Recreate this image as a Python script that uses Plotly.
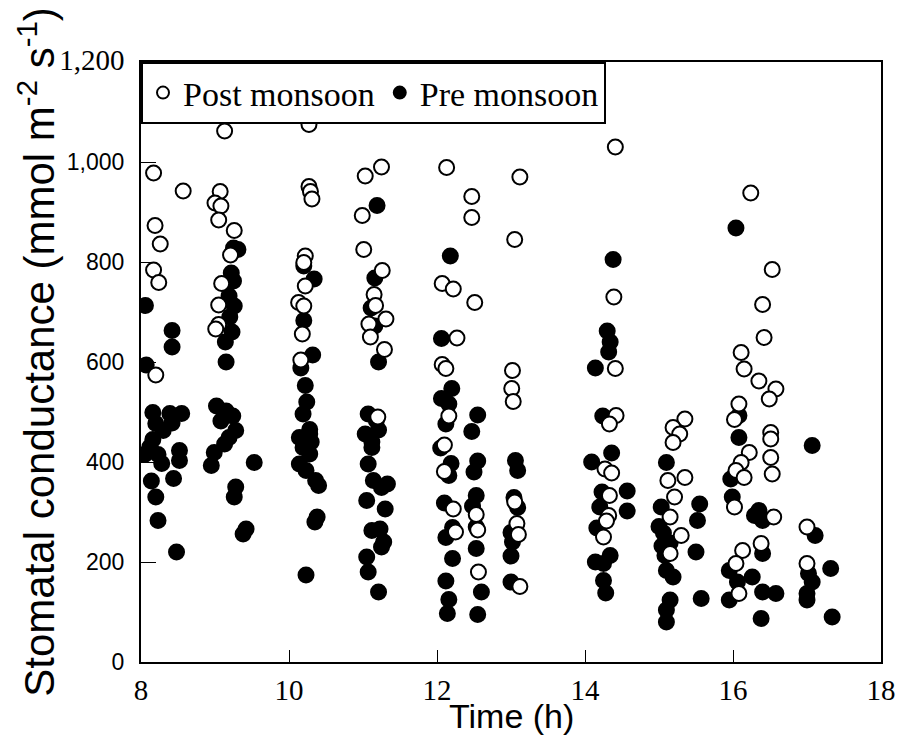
import plotly.graph_objects as go

# Post monsoon (open circles): time (h), stomatal conductance
post_t = [8.17, 8.57, 8.19, 8.26, 8.17, 8.24, 8.20,
          9.13, 9.07, 9.00, 9.08, 9.05, 9.26, 9.21, 9.09, 9.05, 9.05, 9.01,
          10.27, 10.27, 10.29, 10.31, 10.22, 10.20, 10.22, 10.13, 10.20, 10.18, 10.16,
          11.03, 11.25, 10.99, 11.01, 11.26, 11.15, 11.17, 11.31, 11.08, 11.10, 11.29, 11.20,
          12.13, 12.07, 12.22, 12.27, 12.07, 12.12, 12.16, 12.10, 12.10, 12.22, 12.25,
          12.47, 12.47, 12.51, 12.53, 12.55, 12.56,
          13.12, 13.05, 13.02, 13.01, 13.03, 13.05, 13.08, 13.10, 13.12,
          14.41, 14.39, 14.41, 14.42, 14.33, 14.27, 14.36, 14.33, 14.32, 14.29, 14.25,
          15.35, 15.19, 15.28, 15.19, 15.12, 15.35, 15.21, 15.15, 15.30, 15.15,
          16.24, 16.53, 16.40, 16.42, 16.11, 16.15, 16.35, 16.58, 16.49, 16.08, 16.02,
          16.22, 16.11, 16.04, 16.15, 16.51, 16.51, 16.51, 16.53, 16.02, 16.55, 16.38,
          16.13, 16.04, 16.08,
          17.00, 17.00]
post_v = [978, 942, 873, 836, 784, 759, 574,
          1062, 941, 918, 912, 884, 863, 814, 757, 714, 675, 666,
          1075, 951, 941, 926, 812, 799, 752, 719, 712, 656, 604,
          972, 990, 893, 825, 783, 735, 713, 686, 676, 650, 625, 490,
          989, 757, 746, 648, 595, 587, 492, 434, 381, 306, 260,
          931, 889, 719, 295, 264, 180,
          970, 845, 583, 547, 521, 320, 277, 255, 151,
          1030, 730, 587, 493, 476, 386, 378, 333, 293, 282, 250,
          486, 469, 456, 439, 363, 369, 330, 290, 253, 217,
          938, 785, 715, 649, 619, 586, 562, 546, 526, 516, 485,
          419, 399, 383, 369, 459, 446, 409, 376, 310, 290, 237,
          223, 197, 137,
          270, 197]

# Pre monsoon (filled circles)
pre_t = [8.06, 8.42, 8.42, 8.07,
         8.16, 8.39, 8.55, 8.20, 8.42, 8.30, 8.16, 8.12, 8.05, 8.23, 8.52, 8.28, 8.52,
         8.44, 8.14, 8.20, 8.23, 8.48,
         9.25, 9.31, 9.22, 9.25, 9.19, 9.26, 9.20, 9.23, 9.14, 9.15,
         9.02, 9.15, 9.24, 9.08, 9.28, 9.19, 9.13, 8.99, 8.95, 9.53, 9.28, 9.26, 9.42, 9.38,
         10.20, 10.34, 10.20, 10.32, 10.16, 10.22,
         10.24, 10.19, 10.14, 10.28, 10.28, 10.30, 10.19, 10.28, 10.14, 10.23, 10.36, 10.40,
         10.38, 10.35, 10.23,
         11.19, 11.16, 11.11, 11.16, 11.21,
         11.07, 11.18, 11.21, 11.03, 11.12, 11.12, 11.07, 11.14, 11.33, 11.25, 11.05, 11.30,
         11.12, 11.23, 11.28, 11.25, 11.05, 11.07, 11.21,
         12.18, 12.06, 12.20, 12.06, 12.16, 12.12, 12.05, 12.19, 12.16, 12.10, 12.21, 12.12,
         12.21, 12.12, 12.16, 12.14,
         12.55, 12.47, 12.55, 12.50, 12.53, 12.48, 12.53, 12.53, 12.60, 12.55,
         13.06, 13.09, 13.04, 13.09, 13.00, 13.02, 13.00, 13.00,
         14.38, 14.30, 14.34, 14.32, 14.14, 14.24, 14.36, 14.09, 14.57, 14.23, 14.57, 14.20,
         14.16, 14.34, 14.14, 14.25, 14.25, 14.28,
         15.10, 15.55, 15.52, 15.03, 15.00, 15.06, 15.15, 15.04, 15.08, 15.50, 15.10, 15.19,
         15.15, 15.10, 15.10, 15.57,
         16.04, 16.08, 16.08, 15.97, 15.99, 16.35, 16.29, 16.40, 16.40, 15.95, 16.06, 15.95,
         16.26, 16.40, 16.58, 16.38,
         17.07, 17.11, 17.02, 17.07, 17.00, 17.00, 17.32, 17.34]
pre_v = [713, 663, 630, 594,
         499, 497, 497, 477, 478, 463, 445, 430, 415, 415, 423, 397, 403,
         367, 362, 330, 283, 220,
         828, 825, 778, 762, 732, 712, 690, 660, 640, 600,
         512, 502, 492, 482, 463, 449, 436, 419, 393, 399, 350, 330, 266, 256,
         792, 766, 683, 614, 588, 553,
         520, 496, 449, 465, 456, 440, 429, 416, 396, 383, 363, 353,
         290, 280, 174,
         913, 768, 708, 672, 600,
         496, 483, 464, 456, 440, 429, 396, 363, 356, 349, 323, 306,
         263, 266, 240, 230, 210, 180, 140,
         812, 647, 547, 527, 516, 476, 428, 397, 373, 318, 269, 249,
         207, 162, 125, 97,
         494, 461, 402, 380, 333, 312, 270, 227, 140, 95,
         403, 383, 329, 309, 259, 240, 212, 160,
         805, 662, 640, 620, 588, 492, 418, 400, 342, 340, 302, 310,
         268, 213, 200, 197, 163, 138,
         399, 316, 283, 310, 271, 258, 238, 232, 213, 220, 183, 170,
         124, 104, 80, 127,
         868, 493, 449, 366, 330, 303, 293, 283, 217, 183, 160, 124,
         170, 140, 137, 87,
         433, 253, 177, 160, 137, 124, 187, 90]

x_ticks = [8, 10, 12, 14, 16, 18]
y_ticks = [0, 200, 400, 600, 800, 1000, 1200]
y_ticktext = ["0", "200", "400", "600", "800", "1,000",
              '<span style="font-family:Liberation Serif;font-size:29px">1,200</span>']

SERIF = "Liberation Serif, Times New Roman, serif"
SANS = "Liberation Sans, Arial, sans-serif"

fig = go.Figure()
fig.add_trace(go.Scatter(
    x=pre_t, y=pre_v, mode="markers", name="Pre monsoon", legendrank=2,
    marker=dict(symbol="circle", size=15, color="black",
                line=dict(color="black", width=2))))
fig.add_trace(go.Scatter(
    x=post_t, y=post_v, mode="markers", name="Post monsoon", legendrank=1,
    marker=dict(symbol="circle", size=15, color="white",
                line=dict(color="black", width=2))))

fig.update_layout(
    width=908, height=739,
    margin=dict(l=141, r=22, t=62, b=77),
    paper_bgcolor="white", plot_bgcolor="white",
    showlegend=True,
    legend=dict(x=0, y=1, xanchor="left", yanchor="top", orientation="h",
                bgcolor="white", bordercolor="black", borderwidth=2,
                font=dict(family=SERIF, size=34, color="black"),
                itemsizing="constant", tracegroupgap=0),
    xaxis=dict(range=[8, 18], tickvals=x_ticks, ticks="inside", ticklen=12,
               tickwidth=1, tickcolor="black", showline=True, linewidth=2,
               linecolor="black", mirror=True, showgrid=False, zeroline=False,
               tickfont=dict(family=SERIF, size=29, color="black"),
               ticklabelstandoff=1),
    yaxis=dict(range=[0, 1200], tickvals=y_ticks, ticktext=y_ticktext,
               ticks="inside", ticklen=15, tickwidth=1, tickcolor="black",
               showline=True, linewidth=2, linecolor="black", mirror=True,
               showgrid=False, zeroline=False,
               tickfont=dict(family=SANS, size=23, color="black"),
               ticklabelstandoff=10),
    annotations=[
        dict(text="Time (h)", x=0.5, y=(662 - 716) / 600, xref="paper", yref="paper",
             xanchor="center", yanchor="middle", showarrow=False,
             font=dict(family=SANS, size=34, color="black")),
        dict(text="Stomatal conductance (mmol m<sup>-2</sup> s<sup>-1</sup>)",
             x=(36 - 141) / 745, y=(662 - 352) / 600, xref="paper", yref="paper",
             xanchor="center", yanchor="middle", textangle=-90, showarrow=False,
             font=dict(family=SANS, size=42, color="black")),
    ],
)

fig.write_html("out.html")
